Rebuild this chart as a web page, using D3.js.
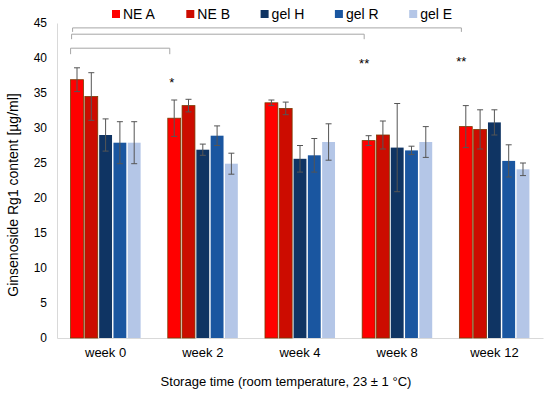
<!DOCTYPE html>
<html>
  <head>
    <meta charset="utf-8">
    <title></title>
  </head>
  <style>
    body {
      margin: 0;
      background: #fff;
      font-family: "Liberation Sans", Arial, sans-serif;
    }
    .axis path { stroke: #d9d9d9; }
    .axis .tick line { display: none; }
    .axis .tick text { fill: #000; }
  </style>
  <script src="https://d3js.org/d3.v7.min.js"></script>
  <body>
    <script>
    // categories and series
    const weeks = ["week 0", "week 2", "week 4", "week 8", "week 12"]
    const seriesNames = ["NE A", "NE B", "gel H", "gel R", "gel E"]
    const colors = ["#ff0000", "#cc0c00", "#0f3463", "#1a56a0", "#b4c6e7"]

    // means per series, one value per week
    const neA  = [36.9, 31.4, 33.6, 28.2, 30.2]
    const neB  = [34.5, 33.2, 32.8, 29.0, 29.8]
    const gelH = [29.0, 26.9, 25.6, 27.2, 30.8]
    const gelR = [27.9, 28.9, 26.1, 26.8, 25.3]
    const gelE = [27.9, 24.9, 28.0, 28.0, 24.1]

    // standard deviations
    const neA_sd  = [1.7, 2.6, 0.4, 0.7, 3.0]
    const neB_sd  = [3.4, 0.9, 0.9, 2.0, 2.8]
    const gelH_sd = [2.3, 0.8, 1.9, 6.3, 1.8]
    const gelR_sd = [3.0, 1.4, 2.4, 0.6, 2.3]
    const gelE_sd = [3.0, 1.5, 2.6, 2.2, 0.9]

    const yTicks = [0, 5, 10, 15, 20, 25, 30, 35, 40, 45]

    // significance brackets: week 0 vs target week
    const sigWeeks = ["week 2", "week 8", "week 12"]
    const sigLabels = ["*", "**", "**"]
    const sigLevel = [41.4, 43.4, 44.3]
    const sigStar = [36.9, 39.6, 39.9]

    const means = [neA, neB, gelH, gelR, gelE]
    const sds = [neA_sd, neB_sd, gelH_sd, gelR_sd, gelE_sd]

    const W = 550, H = 394
    const svg = d3.select("body").append("svg")
      .attr("width", W).attr("height", H)

    const x0 = d3.scaleBand().domain(weeks).range([57, 543])
      .paddingInner(0.25).paddingOuter(0.125)
    const x1 = d3.scaleBand().domain(seriesNames).range([0, x0.bandwidth()])
      .padding(0.1)
    const y = d3.scaleLinear().domain([0, 45]).range([338, 23])

    // y axis
    svg.append("g")
      .attr("class", "axis")
      .attr("transform", "translate(57,0)")
      .call(d3.axisLeft(y).tickValues(yTicks).tickSize(0).tickPadding(10).tickSizeOuter(0))
      .call(g => g.selectAll("text").style("font-size", "12px")
                  .style("font-family", "Liberation Sans, Arial"))

    // x axis
    svg.append("g")
      .attr("class", "axis")
      .attr("transform", "translate(0,338)")
      .call(d3.axisBottom(x0).tickSize(0).tickPadding(10).tickSizeOuter(0))
      .call(g => g.selectAll("text").style("font-size", "13px")
                  .style("font-family", "Liberation Sans, Arial"))

    // bars
    const rows = []
    seriesNames.forEach((s, i) => {
      weeks.forEach((w, j) => {
        rows.push({ s: s, i: i, w: w, v: means[i][j], e: sds[i][j] })
      })
    })

    const bars = svg.append("g")
    bars.selectAll("rect")
      .data(rows)
      .enter()
      .append("rect")
      .attr("x", d => x0(d.w) + x1(d.s))
      .attr("y", d => y(d.v))
      .attr("width", x1.bandwidth())
      .attr("height", d => y(0) - y(d.v))
      .attr("fill", d => colors[d.i])
      .attr("stroke", d => d.i < 2 ? "#7a3a00" : "none")
      .attr("stroke-width", 0.8)

    // error bars
    const err = svg.append("g")
      .attr("stroke", "#555")
      .attr("stroke-width", 1)
    rows.forEach(d => {
      const cx = x0(d.w) + x1(d.s) + x1.bandwidth() / 2
      err.append("line")
        .attr("x1", cx).attr("x2", cx)
        .attr("y1", y(d.v + d.e)).attr("y2", y(d.v - d.e))
      ;[d.v + d.e, d.v - d.e].forEach(v => {
        err.append("line")
          .attr("x1", cx - 3).attr("x2", cx + 3)
          .attr("y1", y(v)).attr("y2", y(v))
      })
    })

    // significance brackets
    const sig = svg.append("g")
    const startX = x0(weeks[0]) + x1(seriesNames[0])
    sigWeeks.forEach((w, k) => {
      const endX = x0(w) + x1(seriesNames[0]) + 2
      const by = y(sigLevel[k])
      const drop = 6 - k
      sig.append("path")
        .attr("d", `M${startX + k},${by + drop}V${by}H${endX}V${by + drop}`)
        .attr("fill", "none")
        .attr("stroke", "#a6a6a6")
        .attr("stroke-width", 1)
      sig.append("text")
        .attr("x", endX + (k == 0 ? 2 : 0))
        .attr("y", y(sigStar[k]) + 7)
        .attr("text-anchor", "middle")
        .style("font-size", "13px")
        .text(sigLabels[k])
    })

    // legend
    const legend = svg.append("g")
    seriesNames.forEach((s, i) => {
      const lx = 112 + i * 74.3
      legend.append("rect")
        .attr("x", lx).attr("y", 10)
        .attr("width", 8).attr("height", 8)
        .attr("fill", colors[i])
      legend.append("text")
        .attr("x", lx + 11).attr("y", 19)
        .style("font-size", "14px")
        .text(s)
    })

    // axis titles
    svg.append("text")
      .attr("x", 286).attr("y", 386)
      .attr("text-anchor", "middle")
      .style("font-size", "13px")
      .text("Storage time (room temperature, 23 ± 1 °C)")

    svg.append("text")
      .attr("transform", "translate(18,195) rotate(-90)")
      .attr("text-anchor", "middle")
      .style("font-size", "14px")
      .text("Ginsenoside Rg1 content [µg/ml]")
    </script>
  </body>
</html>
